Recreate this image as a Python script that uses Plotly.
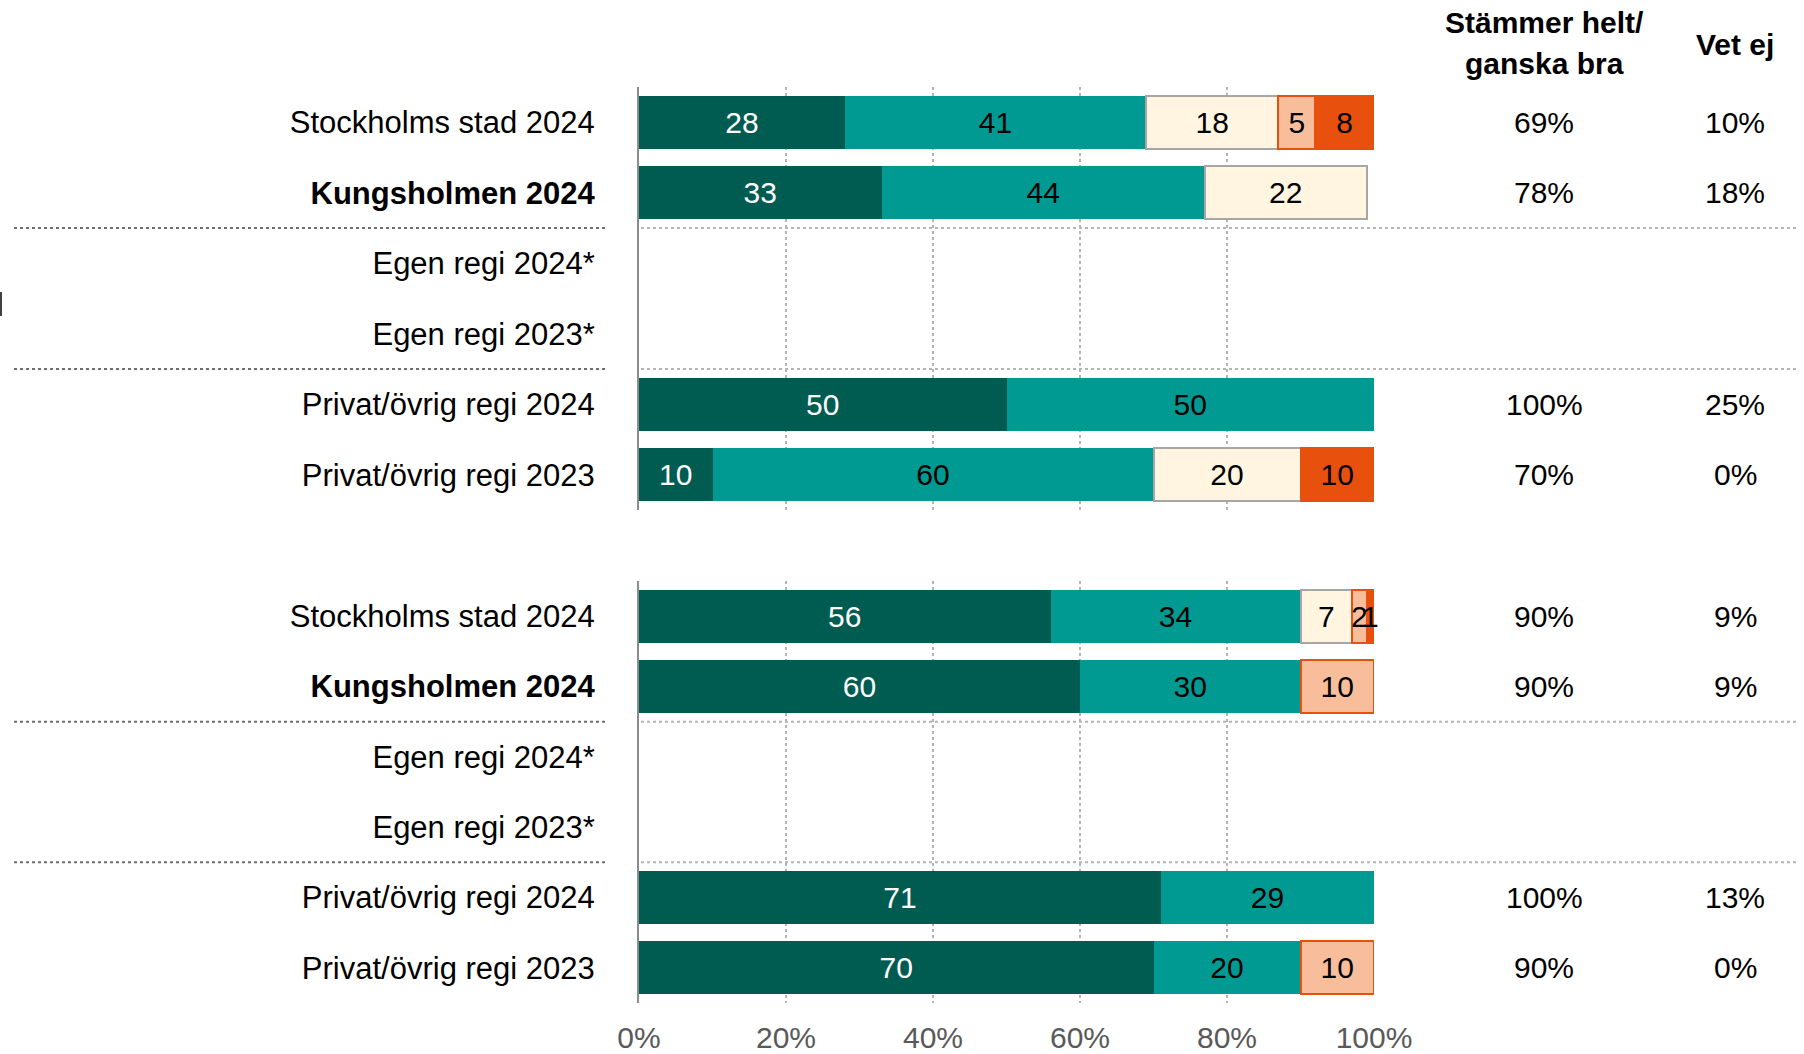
import plotly.graph_objects as go

# Rows of both panels (top to bottom)
categories = [
    "Stockholms stad 2024",
    "Kungsholmen 2024",
    "Egen regi 2024*",
    "Egen regi 2023*",
    "Privat/övrig regi 2024",
    "Privat/övrig regi 2023",
]
tick_text = [
    "Stockholms stad 2024",
    "<b>Kungsholmen 2024</b>",
    "Egen regi 2024*",
    "Egen regi 2023*",
    "Privat/övrig regi 2024",
    "Privat/övrig regi 2023",
]

# Upper panel: share of answers per response option (%)
top_helt = [28, 33, None, None, 50, 10]
top_ganska_bra = [41, 44, None, None, 50, 60]
top_varken = [18, 22, None, None, None, 20]
top_ganska_daligt = [5, None, None, None, None, None]
top_inte_alls = [8, None, None, None, None, 10]
top_positiva = [69, 78, None, None, 100, 70]
top_vet_ej = [10, 18, None, None, 25, 0]

# Lower panel
bot_helt = [56, 60, None, None, 71, 70]
bot_ganska_bra = [34, 30, None, None, 29, 20]
bot_varken = [7, None, None, None, None, None]
bot_ganska_daligt = [2, 10, None, None, None, 10]
bot_inte_alls = [1, None, None, None, None, None]
bot_positiva = [90, 90, None, None, 100, 90]
bot_vet_ej = [9, 9, None, None, 13, 0]

x_ticks = [0, 20, 40, 60, 80, 100]
x_tick_labels = ["0%", "20%", "40%", "60%", "80%", "100%"]

W, H = 1804, 1054


def px_x(p):
    return p / W


def px_y(p):
    return 1 - p / H


segments = [
    # fill, border colour, border width, text colour
    ("#005B50", "#005B50", 0, "white"),
    ("#009A92", "#009A92", 0, "black"),
    ("#FFF5E1", "#A6A6A6", 2, "black"),
    ("#F8BE9C", "#E8500E", 2, "black"),
    ("#E8500E", "#E8500E", 2, "black"),
]

panels = [
    ("x", "y", [top_helt, top_ganska_bra, top_varken, top_ganska_daligt, top_inte_alls]),
    ("x2", "y2", [bot_helt, bot_ganska_bra, bot_varken, bot_ganska_daligt, bot_inte_alls]),
]

FAMILY = "Liberation Sans, Arial"

fig = go.Figure()
for xa, ya, series in panels:
    for vals, (fill, line, lw, tcol) in zip(series, segments):
        fig.add_trace(go.Bar(
            x=vals, y=categories, orientation="h",
            xaxis=xa, yaxis=ya,
            marker=dict(color=fill, line=dict(color=line, width=lw)),
            text=[None if v is None else str(v) for v in vals],
            textposition="inside", insidetextanchor="middle",
            textfont=dict(family=FAMILY, size=30, color=tcol),
            constraintext="none", cliponaxis=False,
            showlegend=False, hoverinfo="skip",
        ))

font = dict(family=FAMILY, size=30, color="black")
label_font = dict(family=FAMILY, size=31, color="black")

x_dom = [px_x(639), px_x(1374)]
top_dom = [px_y(510), px_y(87)]
bot_dom = [px_y(1003), px_y(581)]

xcommon = dict(
    range=[0, 100], domain=x_dom, tickmode="array", tickvals=x_ticks, ticktext=x_tick_labels,
    showgrid=True, gridcolor="#B4B4B4", griddash="dot", gridwidth=2,
    zeroline=False, showline=False, fixedrange=True, ticks="", automargin=False,
)
ycommon = dict(
    categoryorder="array", categoryarray=categories,
    tickmode="array", tickvals=categories, ticktext=tick_text, autorange="reversed",
    showline=True, linecolor="#8C8C8C", linewidth=2, ticks="", automargin=False,
    showgrid=False, zeroline=False, tickfont=label_font, ticklabelstandoff=36,
)

fig.update_layout(
    width=W, height=H, autosize=False,
    margin=dict(l=0, r=0, t=0, b=0, pad=0, autoexpand=False),
    paper_bgcolor="white", plot_bgcolor="white",
    barmode="stack", bargap=0.25,
    uniformtext=dict(mode="show", minsize=30),
    xaxis=dict(**xcommon, anchor="y", showticklabels=False),
    yaxis=dict(**ycommon, domain=top_dom, anchor="x"),
    xaxis2=dict(**xcommon, anchor="y2", showticklabels=True,
                tickfont=dict(family=FAMILY, size=30, color="#595959"),
                ticklabelstandoff=14),
    yaxis2=dict(**ycommon, domain=bot_dom, anchor="x2"),
)

annotations = []
# Column headers
annotations.append(dict(text="<b>Stämmer helt/</b>", x=px_x(1544), y=px_y(22), xref="paper", yref="paper",
                        xanchor="center", yanchor="middle", showarrow=False, font=font))
annotations.append(dict(text="<b>ganska bra</b>", x=px_x(1544), y=px_y(64), xref="paper", yref="paper",
                        xanchor="center", yanchor="middle", showarrow=False, font=font))
annotations.append(dict(text="<b>Vet ej</b>", x=px_x(1735), y=px_y(44), xref="paper", yref="paper",
                        xanchor="center", yanchor="middle", showarrow=False, font=font))

# Summary columns to the right of each panel
for ya, pos, vet in [("y", top_positiva, top_vet_ej), ("y2", bot_positiva, bot_vet_ej)]:
    for cat, p, v in zip(categories, pos, vet):
        if p is not None:
            annotations.append(dict(text=f"{p}%", x=px_x(1544), y=cat, xref="paper", yref=ya,
                                    xanchor="center", yanchor="middle", showarrow=False, font=font))
        if v is not None:
            annotations.append(dict(text=f"{v}%", x=px_x(1735), y=cat, xref="paper", yref=ya,
                                    xanchor="center", yanchor="middle", showarrow=False, font=font))
fig.update_layout(annotations=annotations)

# Dotted separators around the "Egen regi" rows
shapes = []
for ya in ["y", "y2"]:
    for yb in [1.5, 3.5]:
        shapes.append(dict(type="line", xref="paper", yref=ya, x0=px_x(14), x1=px_x(605), y0=yb, y1=yb,
                           line=dict(color="#6E6E6E", width=2, dash="dot")))
        shapes.append(dict(type="line", xref="paper", yref=ya, x0=px_x(641), x1=px_x(1798), y0=yb, y1=yb,
                           line=dict(color="#B4B4B4", width=2, dash="dot")))
# Small mark at the left edge
shapes.append(dict(type="rect", xref="paper", yref="paper", x0=0, x1=px_x(2), y0=px_y(316), y1=px_y(292),
                   fillcolor="#404040", line=dict(width=0)))
fig.update_layout(shapes=shapes)

fig.write_html(
    "out.html",
    post_script="document.body.style.margin='0';document.body.style.overflow='hidden';",
)
